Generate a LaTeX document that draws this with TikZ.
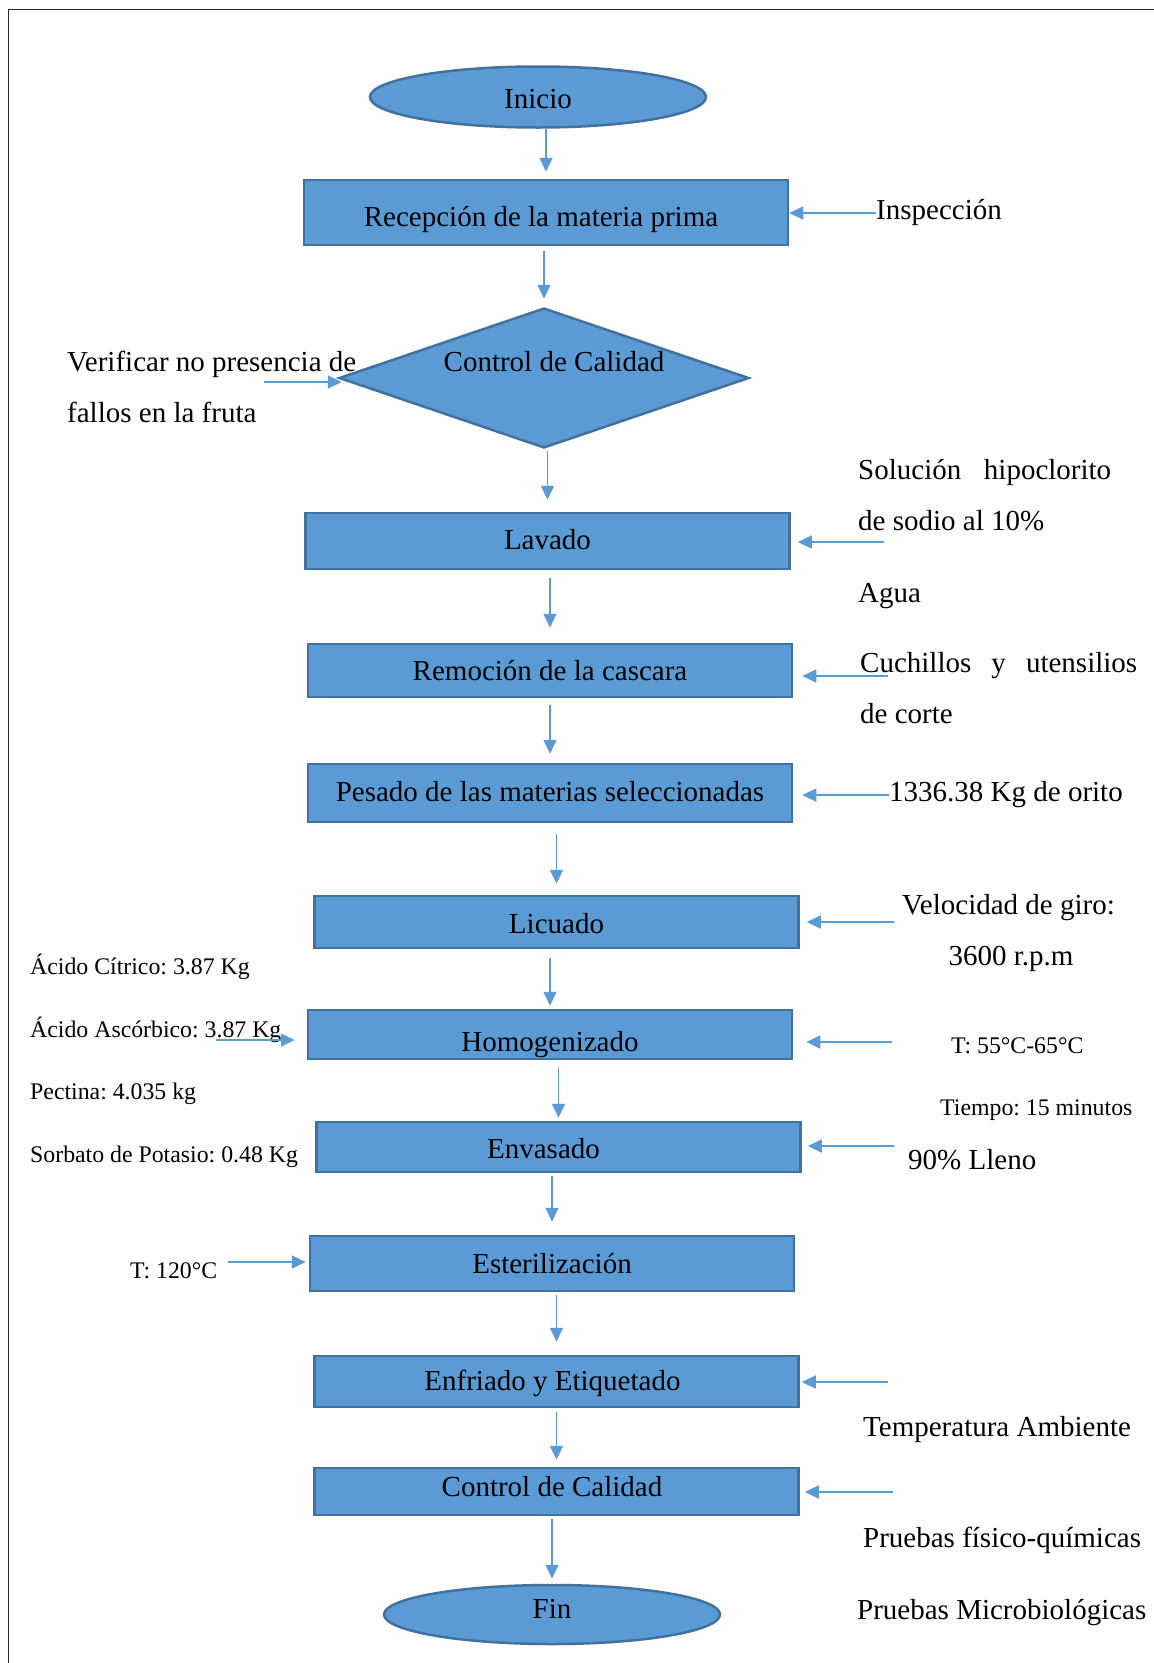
\documentclass[tikz,border=0pt]{standalone}
\usepackage{fontspec}
\setmainfont{Liberation Serif}
\usepackage{tikz}
\usetikzlibrary{arrows.meta,shapes.geometric}
\frenchspacing

\definecolor{boxfill}{HTML}{5B9BD5}
\definecolor{boxline}{HTML}{41719C}
\definecolor{flowblue}{HTML}{5B9BD5}
\newcommand\mainfs{\fontsize{29}{34}\selectfont}
\newcommand\smallfs{\fontsize{23.8}{28}\selectfont}

\begin{document}
\begin{tikzpicture}[x=1pt,y=-1pt]
	\useasboundingbox (0,0) rectangle (1154,1663);
	\draw[line width=1.5pt, black!85] (1154,9.5) -- (8.5,9.5) -- (8.5,1663);
	% steps of the process
	\begin{scope}[every node/.style = {draw=boxline, fill=boxfill, line width=2.5pt,
		inner sep=0pt, font=\mainfs, minimum width=484pt, text height=21pt, text depth=7pt}]
		\node [ellipse, minimum width=336pt, minimum height=61pt, text height=29pt] (inicio) at (538,97) {Inicio};
		\node [minimum height=65pt, text height=34pt] (recep) at (546,212.5) {\hspace*{-10pt}Recepción de la materia prima};
		\node [diamond, minimum width=410pt, minimum height=140pt] (diam) at (544,378) {};
		\node [minimum height=56pt, text height=23pt] (lavado) at (547.5,541) {Lavado};
		\node [minimum height=53pt, text height=27pt] (remocion) at (550,670.5) {Remoción de la cascara};
		\node [minimum height=58pt, text height=23pt] (pesado) at (550,793) {Pesado de las materias seleccionadas};
		\node [minimum height=52pt, text height=30pt] (licuado) at (556.5,922) {Licuado};
		\node [minimum height=49pt, text height=41pt] (homog) at (550,1034.5) {Homogenizado};
		\node [minimum height=50pt, text height=30pt] (envasado) at (558.5,1147) {\hspace*{-30pt}Envasado};
		\node [minimum height=55pt, text height=27pt] (esteril) at (552,1263.5) {Esterilización};
		\node [minimum height=51pt, text height=24pt] (enfriado) at (556.5,1381.5) {\hspace*{-8pt}Enfriado y Etiquetado};
		\node [minimum height=47pt, text depth=11pt] (control) at (556.5,1491.5) {\hspace*{-9pt}Control de Calidad};
		\node [ellipse, minimum width=336pt, minimum height=59pt, text depth=13pt] (fin) at (552,1614.5) {Fin};
	\end{scope}
	\node [font=\mainfs] (diamtxt) at ([xshift=10pt,yshift=16pt]diam.center) {Control de Calidad};

	% free ends of the side arrows
	\coordinate (verifin) at (264,382);
	\coordinate (lavin) at (884,542);
	\coordinate (remin) at (888,676);
	\coordinate (licin) at (894,922);
	\coordinate (homin) at (892,1042);
	\coordinate (acidin) at (216,1040);
	\coordinate (envin) at (894,1146);
	\coordinate (estin) at (228,1262);
	\coordinate (enfin) at (888,1382);
	\coordinate (ctlin) at (893,1492);

	% side notes
	\begin{scope}[every node/.style = {anchor=base west, inner sep=0pt, font=\mainfs}]
		\node (insp) at (876,219) {Inspección};
		\node (verif1) at (67,371) {Verificar no presencia de};
		\node (verif2) at (67,422) {fallos en la fruta};
		\node (sol1) at (858,479) {\makebox[253pt][s]{Solución hipoclorito}};
		\node (sol2) at (858,530) {de sodio al 10\%};
		\node (agua) at (858,602) {Agua};
		\node (cuch1) at (860,672) {\makebox[277pt][s]{Cuchillos y utensilios}};
		\node (cuch2) at (860,723) {de corte};
		\node (orito) at (889,801) {1336.38 Kg de orito};
		\node (vel1) at (902,914) {Velocidad de giro:};
		\node [anchor=base] (vel2) at (1011,965) {3600 r.p.m};
		\node (lleno) at (908,1169) {90\% Lleno};
		\node (tamb) at (863,1436) {Temperatura Ambiente};
		\node (pfq) at (863,1547) {Pruebas físico-químicas};
		\node (pmic) at (857,1619) {Pruebas Microbiológicas};
	\end{scope}
	\begin{scope}[every node/.style = {anchor=base west, inner sep=0pt, font=\smallfs}]
		\node (citrico) at (30,974) {Ácido Cítrico: 3.87 Kg};
		\node (ascorb) at (30,1037) {Ácido Ascórbico: 3.87 Kg};
		\node (pectina) at (30,1099) {Pectina: 4.035 kg};
		\node (sorbato) at (30,1162) {Sorbato de Potasio: 0.48 Kg};
		\node (temp) at (951,1053) {T: 55°C-65°C};
		\node (tiempo) at (940,1115) {Tiempo: 15 minutos};
		\node (t120) at (130,1278) {T: 120°C};
	\end{scope}

	% connectors
	\begin{scope}[>={Triangle[length=14pt, width=13pt]},
		every path/.append style={draw=flowblue, line width=1.5pt}]
		\draw [->, shorten >=7pt] (recep.north |- inicio.south) -- (recep.north);
		\draw [->, shorten <=5pt, shorten >=8pt] (diam.north |- recep.south) -- (diam.north);
		\draw [->, shorten <=2pt, shorten >=12pt] (lavado.north |- diam.south) -- (lavado.north);
		\draw [->, shorten <=8pt, shorten >=15pt] (remocion.north |- lavado.south) -- (remocion.north);
		\draw [->, shorten <=7pt, shorten >=9pt] (pesado.north |- remocion.south) -- (pesado.north);
		\draw [->, shorten <=11pt, shorten >=11pt] (licuado.north |- pesado.south) -- (licuado.north);
		\draw [->, shorten <=9pt, shorten >=3pt] (homog.north |- licuado.south) -- (homog.north);
		\draw [->, shorten <=8pt, shorten >=3pt] (envasado.north |- homog.south) -- (envasado.north);
		\draw [->, shorten <=3pt, shorten >=13pt] (esteril.north |- envasado.south) -- (esteril.north);
		\draw [->, shorten <=3pt, shorten >=13pt] (enfriado.north |- esteril.south) -- (enfriado.north);
		\draw [->, shorten <=4pt, shorten >=7pt] (control.north |- enfriado.south) -- (control.north);
		\draw [->, shorten <=3pt, shorten >=5pt] (fin.north |- control.south) -- (fin.north);

		\draw [->] ([yshift=-1pt]insp.west) -- ([yshift=-1pt]insp.west -| recep.east);
		\draw [->, shorten >=-4pt] (verifin) -- (verifin -| diam.west);
		\draw [->, shorten >=7pt] (lavin) -- (lavin -| lavado.east);
		\draw [->, shorten >=9pt] (remin) -- (remin -| remocion.east);
		\draw [->, shorten >=9pt] ([yshift=-1pt]orito.west) -- ([yshift=-1pt]orito.west -| pesado.east);
		\draw [->, shorten >=7pt] (licin) -- (licin -| licuado.east);
		\draw [->, shorten >=13pt] (homin) -- (homin -| homog.east);
		\draw [->, shorten >=12pt] (acidin) -- (acidin -| homog.west);
		\draw [->, shorten >=6pt] (envin) -- (envin -| envasado.east);
		\draw [->, shorten >=3pt] (estin) -- (estin -| esteril.west);
		\draw [->, shorten >=2pt] (enfin) -- (enfin -| enfriado.east);
		\draw [->, shorten >=5pt] (ctlin) -- (ctlin -| control.east);
	\end{scope}
\end{tikzpicture}
\end{document}
